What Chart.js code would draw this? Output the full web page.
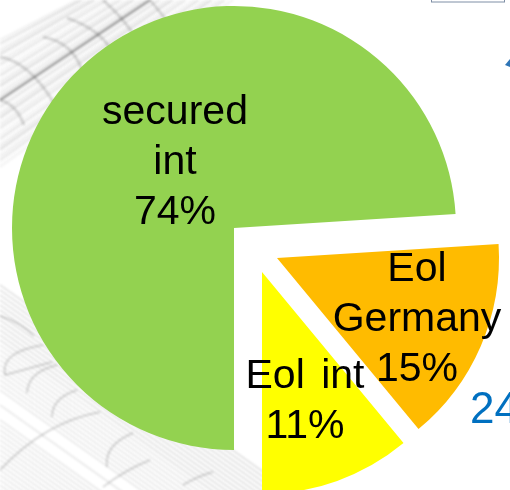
<!DOCTYPE html>
<html>
<head>
<meta charset="utf-8">
<title>Eol share</title>
<style>
  html, body { margin: 0; padding: 0; background: #fff; overflow: hidden; }
  #myChart { display: block; }
</style>
<script src="https://cdn.jsdelivr.net/npm/chart.js@4"></script>
</head>
<body>
<canvas id="myChart" width="510" height="490"></canvas>
<script>
const categories = [['secured', 'int'], ['Eol', 'Germany'], ['Eol int']]
const shares = [74, 15, 11]
const sliceColors = ['#93d250', '#ffbb00', '#ffff00']
const sideNumber = '24'

// how far each slice is pulled away from the pie centre, [dx, dy]
const pullOut = [[0, 0], [43, 30], [28, 44]]
// where each label block is centred and where its first baseline sits
const labelSpots = [[175, 124], [417, 281], [305, 388]]

const FONT = '41px "Liberation Sans", Arial, sans-serif'
const LINE_HEIGHT = 50

// wireframe ribs of the swoosh: start, control, end
const upperRibs = [
  [0, 57, 30, 62, 55, 105],
  [43, 37, 72, 42, 82, 70],
  [67, 18, 97, 28, 110, 48],
  [0, 100, 16, 104, 24, 125],
  [103, 0, 120, 15, 132, 32],
  [150, 0, 160, 12, 168, 22]
]
const lowerRibs = [
  [5, 375, 0, 352, 43, 345],
  [5, 375, 30, 368, 52, 362],
  [27, 393, 28, 372, 57, 365],
  [52, 417, 52, 398, 77, 390],
  [0, 470, 45, 422, 100, 412],
  [107, 467, 104, 445, 133, 433],
  [103, 487, 125, 470, 150, 460],
  [183, 485, 198, 476, 213, 472],
  [0, 316, 20, 322, 34, 336]
]
// opacity cycle of the long strands
const strandTones = [0.08, 0.17, 0.05, 0.12, 0.2, 0.05, 0.1, 0.15, 0.04]

function strokeRibs(ctx, ribs) {
  ribs.forEach(r => {
    ctx.beginPath()
    ctx.moveTo(r[0], r[1])
    ctx.quadraticCurveTo(r[2], r[3], r[4], r[5])
    ctx.stroke()
  })
}

// grey wireframe swoosh behind the pie
const backdrop = {
  id: 'backdrop',
  beforeDraw(chart) {
    const ctx = chart.ctx
    ctx.save()
    ctx.fillStyle = '#fff'
    ctx.fillRect(0, 0, chart.width, chart.height)
    ctx.filter = 'blur(1px)'

    // upper band, long strands fanning from the left edge to the top edge
    ctx.lineWidth = 2
    for (let i = 0; i <= 36; i++) {
      const t = i / 36
      ctx.strokeStyle = `rgba(90,90,90,${strandTones[i % strandTones.length]})`
      ctx.beginPath()
      ctx.moveTo(0, 40 + t * 127)
      ctx.lineTo(77 + t * 156, 0)
      ctx.stroke()
    }
    ctx.strokeStyle = 'rgba(50,50,50,0.45)'
    ctx.lineWidth = 2.5
    ctx.beginPath()
    ctx.moveTo(0, 100)
    ctx.lineTo(150, 0)
    ctx.stroke()

    ctx.lineWidth = 2.5
    ctx.strokeStyle = 'rgba(70,70,70,0.22)'
    strokeRibs(ctx, upperRibs)

    // lower band, long strands with a sparse stretch through the middle
    ctx.lineWidth = 1.5
    for (let y = 285; y <= 490; y += 5) {
      const sparse = y > 385 && y < 425 && y % 15 !== 0
      if (sparse) continue
      ctx.strokeStyle = `rgba(90,90,90,${y < 345 ? 0.22 : 0.16})`
      ctx.beginPath()
      ctx.moveTo(0, y)
      ctx.lineTo(300, y + 213)
      ctx.stroke()
    }

    ctx.lineWidth = 1.5
    ctx.strokeStyle = 'rgba(80,80,80,0.28)'
    strokeRibs(ctx, lowerRibs)
    ctx.restore()
  }
}

// slides the slices out, not always along their own mid-angle
const pullSlices = {
  id: 'pullSlices',
  afterDatasetUpdate(chart) {
    chart.getDatasetMeta(0).data.forEach((arc, i) => {
      arc.x += pullOut[i][0]
      arc.y += pullOut[i][1]
    })
  }
}

const sliceLabels = {
  id: 'sliceLabels',
  afterDatasetsDraw(chart) {
    const ctx = chart.ctx
    ctx.save()
    ctx.font = FONT
    ctx.wordSpacing = '5px'
    ctx.textAlign = 'center'
    ctx.textBaseline = 'alphabetic'
    ctx.fillStyle = '#000'
    categories.forEach((lines, i) => {
      const [x, y] = labelSpots[i]
      const rows = [...lines, shares[i] + '%']
      rows.forEach((row, r) => ctx.fillText(row, x, y + r * LINE_HEIGHT))
    })
    ctx.restore()
  }
}

// scraps of the neighbouring slide content along the right edge
const edgeBits = {
  id: 'edgeBits',
  afterDraw(chart) {
    const ctx = chart.ctx
    ctx.save()
    ctx.strokeStyle = '#7f8fa6'
    ctx.lineWidth = 1
    ctx.strokeRect(431.5, -5, 73, 7)
    ctx.fillStyle = '#2e75b6'
    ctx.beginPath()
    ctx.moveTo(505, 65)
    ctx.lineTo(510, 59)
    ctx.lineTo(510, 67)
    ctx.fill()
    ctx.fillStyle = '#0070c0'
    ctx.font = '44px "Liberation Sans", Arial, sans-serif'
    ctx.textAlign = 'left'
    ctx.fillText(sideNumber, 470, 423)
    ctx.restore()
  }
}

new Chart(document.getElementById('myChart'), {
  type: 'pie',
  data: {
    labels: categories.map(c => c.join(' ')),
    datasets: [{
      data: shares,
      backgroundColor: sliceColors,
      borderWidth: 0
    }]
  },
  options: {
    responsive: false,
    animation: false,
    rotation: 180,
    layout: { padding: { left: 12, right: 54, top: 6, bottom: 40 } },
    plugins: {
      legend: { display: false },
      tooltip: { enabled: false }
    }
  },
  plugins: [backdrop, pullSlices, sliceLabels, edgeBits]
})
</script>
</body>
</html>
